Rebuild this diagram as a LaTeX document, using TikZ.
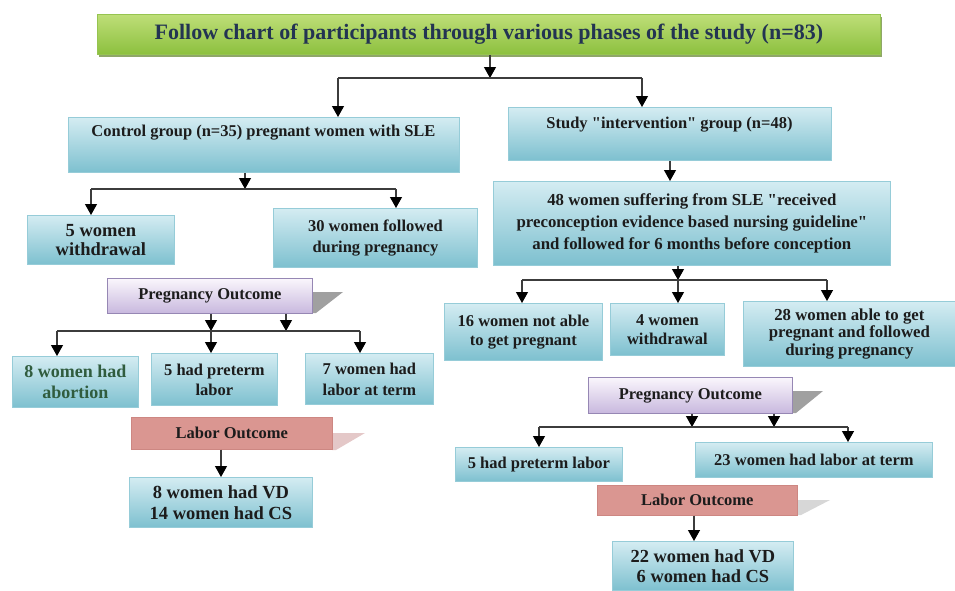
\documentclass[tikz,border=0pt]{standalone}
\usepackage{fontspec}
\setmainfont[Ligatures=TeXOff]{Liberation Serif}
\usetikzlibrary{arrows.meta,shadows}

\definecolor{bluetop}{RGB}{212,236,242}
\definecolor{bluebot}{RGB}{125,192,207}
\definecolor{blueedge}{RGB}{150,204,216}
\definecolor{greentop}{RGB}{190,222,120}
\definecolor{greenbot}{RGB}{140,192,62}
\definecolor{greenedge}{RGB}{150,196,80}
\definecolor{greenshadow}{RGB}{95,130,40}
\definecolor{lavtop}{RGB}{250,246,252}
\definecolor{lavbot}{RGB}{200,184,222}
\definecolor{lavedge}{RGB}{150,135,180}
\definecolor{salmon}{RGB}{218,150,145}
\definecolor{salmonedge}{RGB}{205,135,130}
\definecolor{txtc}{RGB}{28,28,28}
\definecolor{titlec}{RGB}{35,52,82}
\definecolor{greentxt}{RGB}{48,92,62}
\definecolor{linec}{RGB}{60,60,60}
\definecolor{shadegray}{RGB}{160,160,160}
\definecolor{shadepink}{RGB}{228,200,200}
\definecolor{shadelight}{RGB}{215,215,215}

\begin{document}
\begin{tikzpicture}[x=1pt,y=-1pt,
  box/.style={draw=blueedge, line width=0.8pt, top color=bluetop, bottom color=bluebot,
    anchor=north west, inner sep=0pt, align=center,
    font=\fontsize{16.5}{20}\selectfont\bfseries, text=txtc},
  boxtext/.style={inner sep=0pt, font=\fontsize{16.5}{20}\selectfont\bfseries, text=txtc},
  titlebox/.style={draw=greenedge, line width=0.8pt, top color=greentop, bottom color=greenbot,
    anchor=north west, inner sep=0pt, align=center,
    drop shadow={shadow xshift=1.5pt, shadow yshift=-2.5pt, fill=greenshadow, opacity=0.7},
    font=\fontsize{22}{24}\selectfont\bfseries, text=titlec},
  pobox/.style={draw=lavedge, line width=0.8pt, top color=lavtop, bottom color=lavbot,
    anchor=north west, inner sep=0pt, font=\fontsize{16.5}{20}\selectfont\bfseries, text=txtc},
  lobox/.style={draw=salmonedge, line width=0.6pt, fill=salmon,
    anchor=north west, inner sep=0pt, font=\fontsize{16.5}{20}\selectfont\bfseries, text=txtc},
  conn/.style={draw=linec, line width=1.2pt},
  arr/.style={draw=linec, line width=1.2pt, -{Triangle[width=12pt,length=11pt,color=black]}}
]
\useasboundingbox (0,0) rectangle (955,590);

% ---------- title ----------
\node[titlebox, minimum width=783pt, minimum height=40pt] (title) at (97,14)
  {Follow chart of participants through various phases of the study (n=83)};

\coordinate (b1) at (490,78);
\coordinate (b1l) at (338,78);
\coordinate (b1r) at (642,78);

% ---------- left branch ----------
\node[box, minimum width=391pt, minimum height=55pt] (ctrl) at (68,117) {};
\node[boxtext] (ctrltxt) at (263.5,133) {Control group (n=35) pregnant women with SLE};

\node[box, minimum width=147pt, minimum height=49pt, font=\fontsize{18.5}{19}\selectfont\bfseries] (w5) at (27,215) {5 women\\withdrawal};
\node[box, minimum width=204pt, minimum height=59pt, font=\fontsize{16.5}{21}\selectfont\bfseries] (f30) at (273,208) {30 women followed\\during pregnancy};

\coordinate (c1) at (245,189);
\coordinate (c1l) at (91,189);
\coordinate (c1r) at (396,189);

\fill[shadegray] (312,292) -- (343,292) -- (316,313) -- (312,313) -- cycle;
\node[pobox, minimum width=205pt, minimum height=35pt] (po1) at (107,278) {Pregnancy Outcome};

\coordinate (d1a) at (211,331);
\coordinate (d1b) at (286,331);
\coordinate (d1l) at (57,331);
\coordinate (d1r) at (360,331);

\node[box, minimum width=126pt, minimum height=51pt, font=\fontsize{18}{21}\selectfont\bfseries, text=greentxt] (ab8) at (12,356) {8 women had\\abortion};
\node[box, minimum width=126pt, minimum height=52pt] (pt5) at (151,353) {5 had preterm\\labor};
\node[box, minimum width=128pt, minimum height=51pt, font=\fontsize{16.5}{21}\selectfont\bfseries] (t7) at (305,353) {7 women had\\labor at term};

\fill[shadepink] (332,433) -- (365,433) -- (336,450) -- (332,450) -- cycle;
\node[lobox, minimum width=201pt, minimum height=32pt] (lo1) at (131,417) {Labor Outcome};

\node[box, minimum width=183pt, minimum height=50pt, font=\fontsize{18.5}{21}\selectfont\bfseries] (vd1) at (129,477) {8 women had VD\\14 women had CS};

% ---------- right branch ----------
\node[box, minimum width=323pt, minimum height=53pt] (study) at (508,107) {};
\node[boxtext] (studytxt) at (669.5,125) {Study "intervention" group (n=48)};

\node[box, minimum width=397pt, minimum height=84pt, font=\fontsize{16.8}{22}\selectfont\bfseries] (s48) at (493,181)
  {48 women suffering from SLE "received\\preconception evidence based nursing guideline"\\and followed for 6 months before conception};

\coordinate (e1) at (678,280);
\coordinate (e1l) at (522,280);
\coordinate (e1r) at (827,280);

\node[box, minimum width=158pt, minimum height=57pt, font=\fontsize{16.5}{19}\selectfont\bfseries] (np16) at (444,303) {16 women not able\\to get pregnant};
\node[box, minimum width=114pt, minimum height=52pt, font=\fontsize{16.5}{19}\selectfont\bfseries] (w4) at (610,303) {4 women\\withdrawal};
\node[box, minimum width=212pt, minimum height=65pt, font=\fontsize{16.8}{17.5}\selectfont\bfseries] (p28) at (743,301) {28 women able to get\\pregnant and followed\\during pregnancy};

\fill[shadegray] (792,391) -- (823,391) -- (796,413) -- (792,413) -- cycle;
\node[pobox, minimum width=204pt, minimum height=36pt] (po2) at (588,377) {Pregnancy Outcome};

\coordinate (g1a) at (692,427);
\coordinate (g1b) at (774,427);
\coordinate (g1l) at (539,427);
\coordinate (g1r) at (848,427);

\node[box, minimum width=167pt, minimum height=34pt] (pt5r) at (455,447) {5 had preterm labor};
\node[box, minimum width=237pt, minimum height=35pt] (t23) at (695,442) {23 women had labor at term};

\fill[shadelight] (797,500) -- (830,500) -- (801,515) -- (797,515) -- cycle;
\node[lobox, minimum width=200pt, minimum height=30pt] (lo2) at (597,485) {Labor Outcome};

\node[box, minimum width=181pt, minimum height=49pt, font=\fontsize{18.4}{20}\selectfont\bfseries] (vd2) at (612,541) {22 women had VD\\6 women had CS};

% ---------- connectors ----------
\draw[arr] (title.south -| b1) -- (b1);
\draw[conn] (b1l) -- (b1r);
\draw[arr] (b1l) -- (b1l |- ctrl.north);
\draw[arr] (b1r) -- (b1r |- study.north);

\draw[arr] (ctrl.south -| c1) -- (c1);
\draw[conn] (c1l) -- (c1r);
\draw[arr] (c1l) -- (c1l |- w5.north);
\draw[arr] (c1r) -- (c1r |- f30.north);

\draw[arr] (po1.south -| d1a) -- (d1a);
\draw[arr] (po1.south -| d1b) -- (d1b);
\draw[conn] (d1l) -- (d1r);
\draw[arr] (d1l) -- (d1l |- ab8.north);
\draw[arr] (d1a) -- (d1a |- pt5.north);
\draw[arr] (d1r) -- (d1r |- t7.north);

\draw[arr] (lo1.south -| 221,0) -- (vd1.north -| 221,0);

\draw[arr] (study.south -| 670,0) -- (s48.north -| 670,0);
\draw[arr] (s48.south -| e1) -- (e1);
\draw[conn] (e1l) -- (e1r);
\draw[arr] (e1l) -- (e1l |- np16.north);
\draw[arr] (e1) -- (e1 |- w4.north);
\draw[arr] (e1r) -- (e1r |- p28.north);

\draw[arr] (po2.south -| g1a) -- (g1a);
\draw[arr] (po2.south -| g1b) -- (g1b);
\draw[conn] (g1l) -- (g1r);
\draw[arr] (g1l) -- (g1l |- pt5r.north);
\draw[arr] (g1r) -- (g1r |- t23.north);

\draw[arr] (lo2.south -| 694,0) -- (vd2.north -| 694,0);
\end{tikzpicture}
\end{document}
